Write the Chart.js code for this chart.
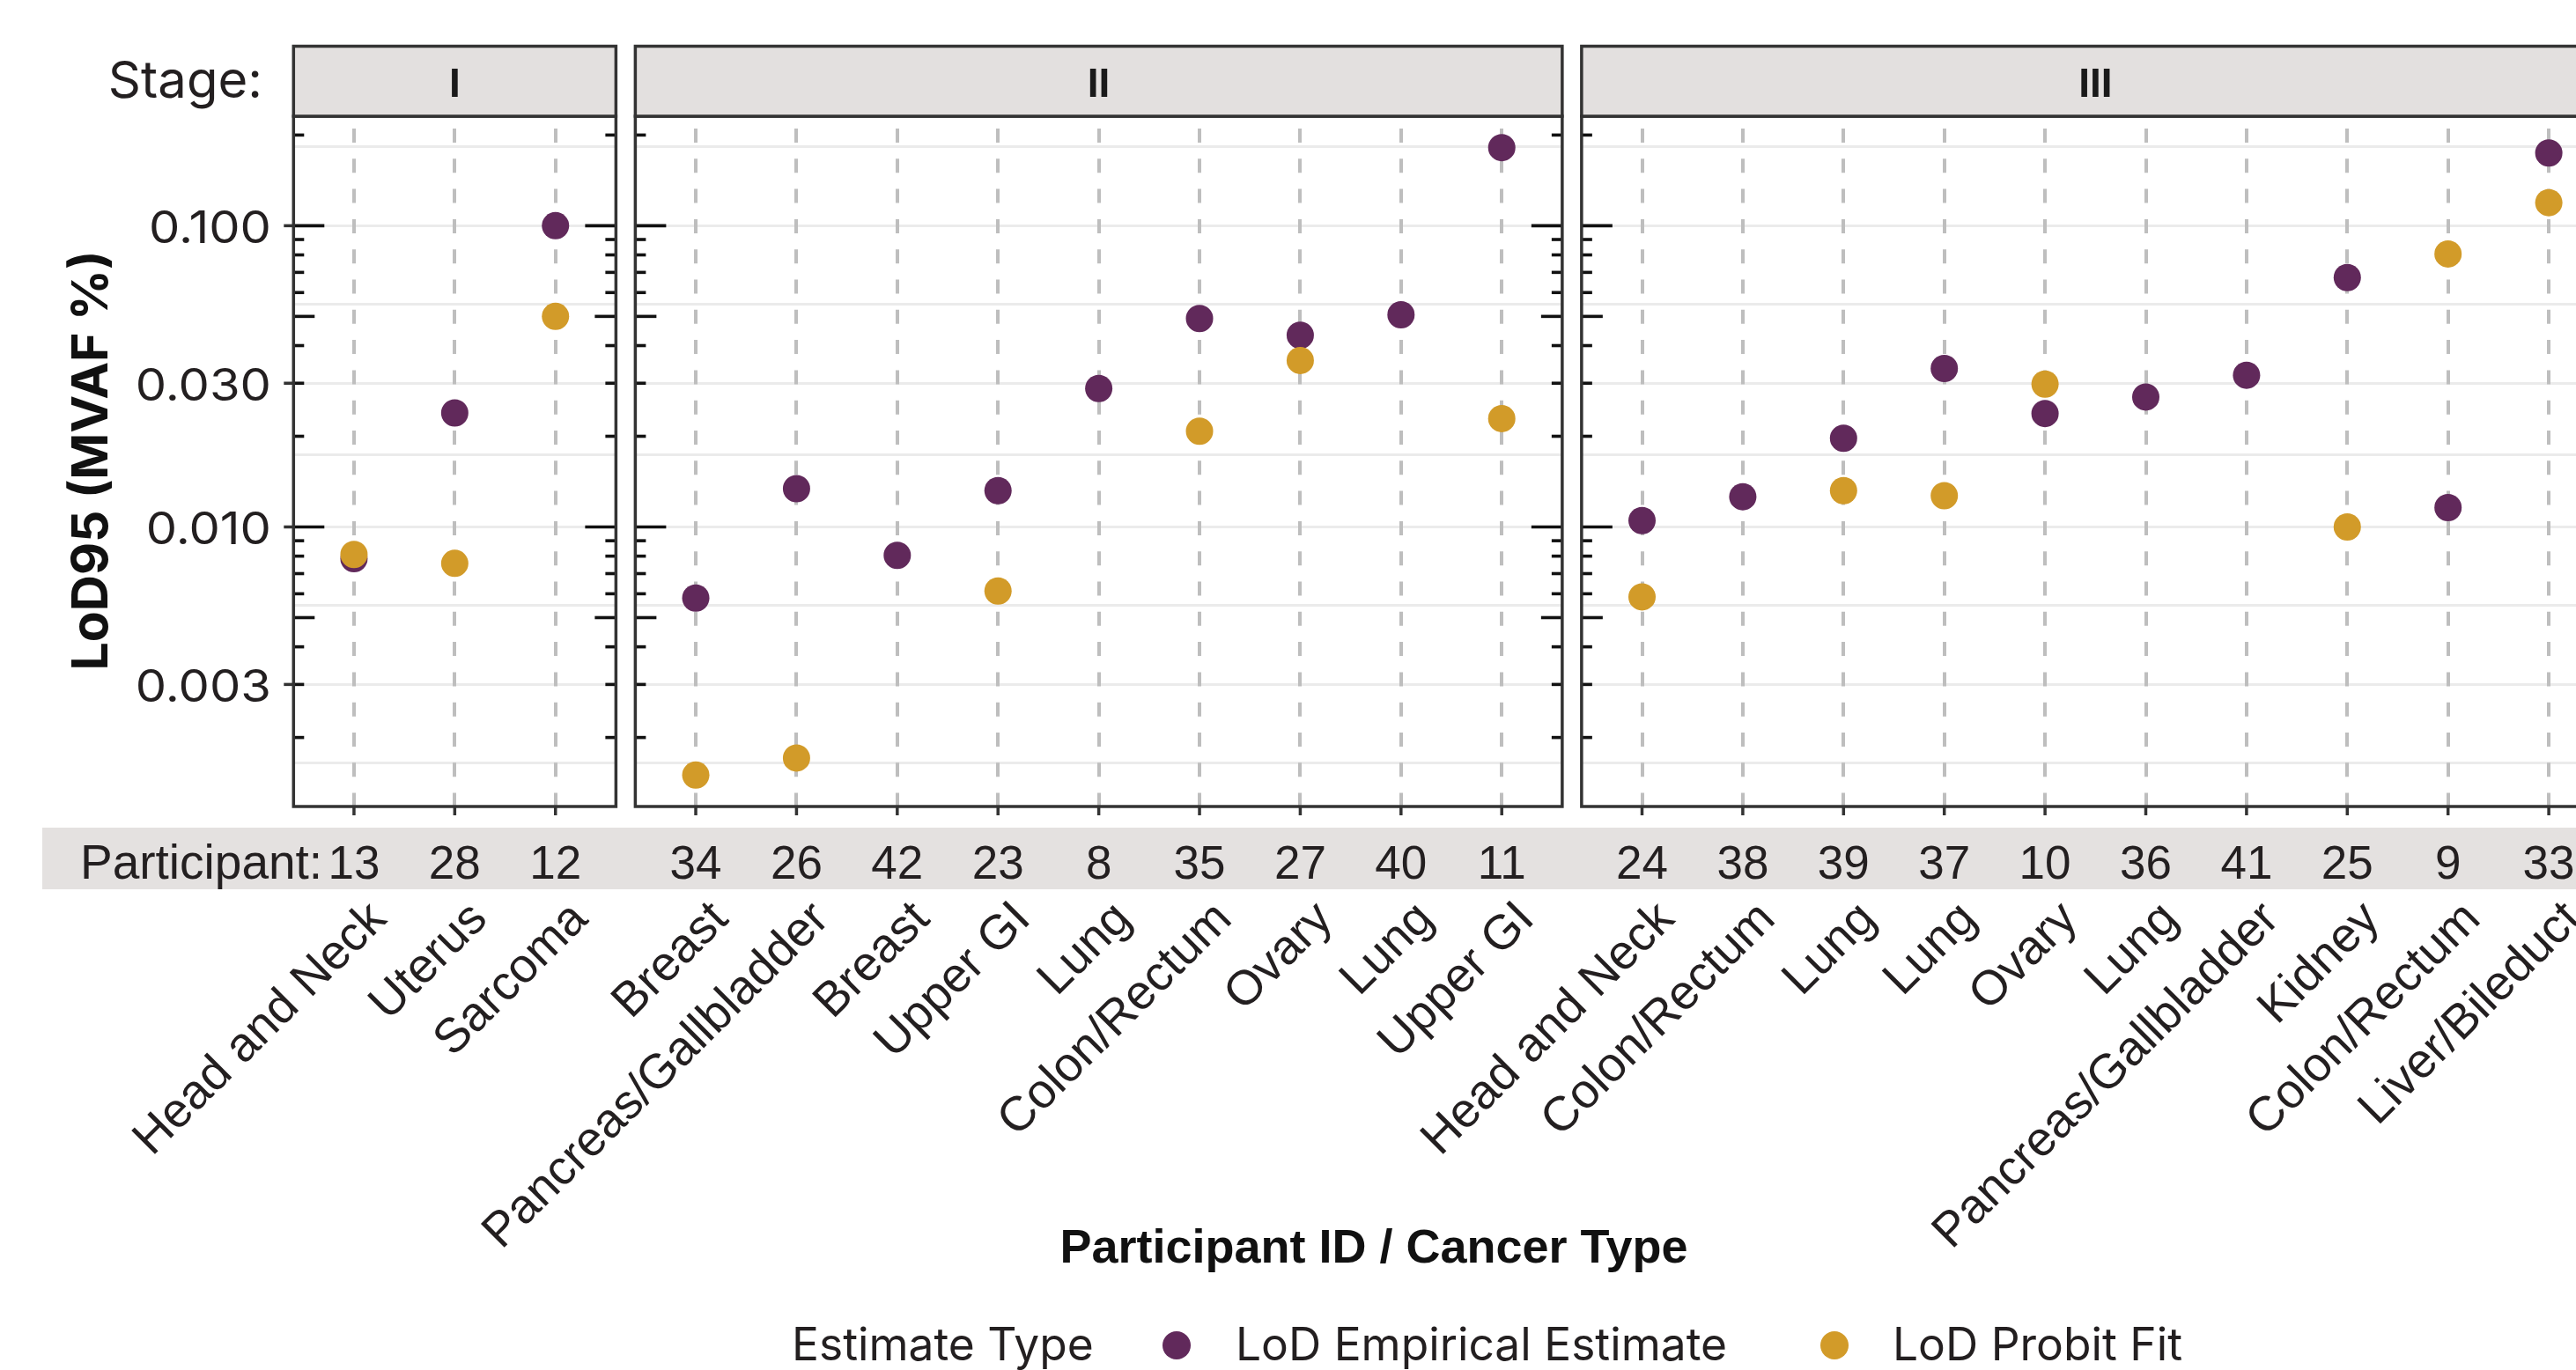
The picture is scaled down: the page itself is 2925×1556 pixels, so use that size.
<!DOCTYPE html>
<html><head><meta charset="utf-8">
<script src="https://cdn.jsdelivr.net/npm/chart.js@4.4.1/dist/chart.umd.min.js"></script>
<style>
html,body{margin:0;padding:0;background:#fff;overflow:hidden;}
#wrap{position:relative;width:2925px;height:1556px;overflow:hidden;background:#fff;}
#wrap canvas{position:absolute;left:0;top:0;}
</style></head><body><div id="wrap">
<canvas id="c1" width="3000" height="1556"></canvas>
<canvas id="c2" width="3000" height="1556"></canvas>
<canvas id="c3" width="3000" height="1556"></canvas>
</div>
<script>
// ---------------- data ----------------
const stages = ['I', 'II', 'III'];

const participantsI = ['13', '28', '12'];
const cancerI = ['Head and Neck', 'Uterus', 'Sarcoma'];
const empiricalI = [0.00785, 0.0239, 0.1000];
const probitI = [0.0081, 0.00757, 0.0500];

const participantsII = ['34', '26', '42', '23', '8', '35', '27', '40', '11'];
const cancerII = ['Breast', 'Pancreas/Gallbladder', 'Breast', 'Upper GI', 'Lung', 'Colon/Rectum', 'Ovary', 'Lung', 'Upper GI'];
const empiricalII = [0.00581, 0.0134, 0.00805, 0.0132, 0.0288, 0.0492, 0.0433, 0.0506, 0.1817];
const probitII = [0.00150, 0.00171, null, 0.00613, null, 0.0208, 0.0357, null, 0.0229];

const participantsIII = ['24', '38', '39', '37', '10', '36', '41', '25', '9', '33'];
const cancerIII = ['Head and Neck', 'Colon/Rectum', 'Lung', 'Lung', 'Ovary', 'Lung', 'Pancreas/Gallbladder', 'Kidney', 'Colon/Rectum', 'Liver/Bileduct'];
const empiricalIII = [0.0105, 0.0126, 0.0197, 0.0336, 0.0238, 0.0270, 0.0319, 0.0673, 0.0116, 0.1743];
const probitIII = [0.00586, null, 0.0132, 0.0127, 0.0298, null, null, 0.0100, 0.0806, 0.1193];

const yBreaks = [0.003, 0.01, 0.03, 0.1];
const yBreakLabels = ['0.003', '0.010', '0.030', '0.100'];
const seriesNames = ['LoD Empirical Estimate', 'LoD Probit Fit'];
const legendTitle = 'Estimate Type';
const xTitle = 'Participant ID / Cancer Type';
const yTitle = 'LoD95 (MVAF %)';
const stageLabel = 'Stage:';
const participantLabel = 'Participant:';

// ---------------- style / layout ----------------
const COLORS = ['#61295B', '#D29B29'];
const TEXT = '#231F20';
const BORDER = '#333333';
const STRIP_FILL = '#E3E0DF';
const CW = 3000, CH = 1556;
const UNIT = 114.4, GAP = 22, FIRST_LEFT = 333.3;
const PANEL_TOP = 132, PANEL_BOTTOM = 916, STRIP_TOP = 52.5;
const BAND_TOP = 940, BAND_BOTTOM = 1010, BAND_LEFT = 48;
const R = 15.5;

// y limits: log10 data range expanded 5% (as ggplot)
const allVals = [].concat(empiricalI, probitI, empiricalII, probitII, empiricalIII, probitIII).filter(v => v != null);
const lmin = Math.log10(Math.min(...allVals)), lmax = Math.log10(Math.max(...allVals));
const ex = (lmax - lmin) * 0.05;
const Y_MIN = Math.pow(10, lmin - ex), Y_MAX = Math.pow(10, lmax + ex);

// major + minor grid (ggplot regular minor breaks in log space)
const lb = yBreaks.map(Math.log10);
const bd = lb[1] - lb[0];
const lbx = [lb[0] - bd].concat(lb, [lb[lb.length - 1] + bd]);
const minorVals = [];
for (let i = 0; i < lbx.length - 1; i++) minorVals.push(Math.pow(10, (lbx[i] + lbx[i + 1]) / 2));
const gridVals = yBreaks.concat(minorVals).filter(v => v >= Y_MIN && v <= Y_MAX);

// annotation log ticks
const logTickVals = [];
for (let e = -3; e <= -1; e++) for (let d = 1; d <= 9; d++) logTickVals.push({ v: d * Math.pow(10, e), d: d });
const logTicks = logTickVals.filter(t => t.v >= Y_MIN && t.v <= Y_MAX);

const panels = [
  { stage: stages[0], ids: participantsI, cancers: cancerI, emp: empiricalI, pro: probitI },
  { stage: stages[1], ids: participantsII, cancers: cancerII, emp: empiricalII, pro: probitII },
  { stage: stages[2], ids: participantsIII, cancers: cancerIII, emp: empiricalIII, pro: probitIII }
];
let cur = FIRST_LEFT;
panels.forEach(p => { p.left = cur; p.right = cur + (p.ids.length - 1 + 1.2) * UNIT; cur = p.right + GAP; });

function toPoints(arr) {
  const out = [];
  arr.forEach((v, i) => { if (v != null) out.push({ x: i, y: v }); });
  return out;
}
function line(ctx, x1, y1, x2, y2) { ctx.beginPath(); ctx.moveTo(x1, y1); ctx.lineTo(x2, y2); ctx.stroke(); }

function panelPlugin(p, k) {
  return {
    id: 'panelDeco' + k,
    beforeDraw(chart) {
      if (k !== 0) return;
      const ctx = chart.ctx;
      ctx.save();
      ctx.fillStyle = '#E4E1E0';
      ctx.fillRect(BAND_LEFT, BAND_TOP, CW - BAND_LEFT, BAND_BOTTOM - BAND_TOP);
      ctx.restore();
    },
    afterDraw(chart) {
      const ctx = chart.ctx, a = chart.chartArea, xs = chart.scales.x, ys = chart.scales.y;
      ctx.save();
      // log ticks (inside both sides)
      ctx.strokeStyle = '#111111'; ctx.lineWidth = 3.6; ctx.lineCap = 'butt';
      logTicks.forEach(t => {
        const py = ys.getPixelForValue(t.v);
        const len = t.d === 1 ? 35 : (t.d === 5 ? 24 : 12);
        line(ctx, a.left, py, a.left + len, py);
        line(ctx, a.right, py, a.right - len, py);
      });
      // panel border
      ctx.strokeStyle = BORDER; ctx.lineWidth = 3.5;
      ctx.strokeRect(a.left, a.top, a.right - a.left, a.bottom - a.top);
      // strip
      ctx.fillStyle = STRIP_FILL;
      ctx.fillRect(a.left, STRIP_TOP, a.right - a.left, a.top - STRIP_TOP);
      ctx.strokeRect(a.left, STRIP_TOP, a.right - a.left, a.top - STRIP_TOP);
      ctx.fillStyle = '#1A1A1A'; ctx.font = 'bold 46px "Liberation Sans"';
      ctx.textAlign = 'center'; ctx.textBaseline = 'alphabetic';
      ctx.fillText(p.stage, (a.left + a.right) / 2, 110);
      // x ticks, ids, cancer types
      p.ids.forEach((id, i) => {
        const px = xs.getPixelForValue(i);
        ctx.strokeStyle = BORDER; ctx.lineWidth = 3.5;
        line(ctx, px, a.bottom, px, a.bottom + 10);
        ctx.fillStyle = TEXT; ctx.font = '53px "Liberation Sans"';
        ctx.textAlign = 'center';
        ctx.fillText(id, px, 998);
        ctx.save();
        ctx.font = '55px "Liberation Sans"';
        ctx.translate(px + 39, 1046);
        ctx.rotate(-Math.PI / 4);
        ctx.textAlign = 'right';
        ctx.fillText(p.cancers[i], 0, 0);
        ctx.restore();
      });
      if (k === 0) {
        // y axis labels and outward ticks
        ctx.font = '51px Inter'; ctx.fillStyle = TEXT; ctx.textAlign = 'right';
        ctx.strokeStyle = BORDER; ctx.lineWidth = 3.5;
        yBreaks.forEach((v, i) => {
          const py = ys.getPixelForValue(v);
          line(ctx, a.left - 11, py, a.left, py);
          ctx.save();
          ctx.translate(308, py + 20); ctx.scale(1.1, 1);
          ctx.fillText(yBreakLabels[i], 0, 0);
          ctx.restore();
        });
        // Stage:
        ctx.font = '58px Inter'; ctx.textAlign = 'right';
        ctx.fillText(stageLabel, 298, 111);
        // Participant:
        ctx.font = '55px "Liberation Sans"'; ctx.textAlign = 'left';
        ctx.fillText(participantLabel, 91, 998);
        // y title
        ctx.save();
        ctx.translate(121.5, 523); ctx.rotate(-Math.PI / 2);
        ctx.font = 'bold 57px Inter'; ctx.textAlign = 'center'; ctx.fillStyle = '#111111';
        ctx.fillText(yTitle, 0, 0);
        ctx.restore();
        // x title
        ctx.font = 'bold 54px "Liberation Sans"'; ctx.textAlign = 'center'; ctx.fillStyle = '#111111';
        ctx.fillText(xTitle, 1560, 1433.5);
        // legend
        ctx.fillStyle = TEXT; ctx.font = '51.5px Inter'; ctx.textAlign = 'left';
        ctx.fillText(legendTitle, 899, 1545);
        const dotX = [1336, 2083], txtX = [1403, 2149];
        chart.data.datasets.forEach((ds, j) => {
          ctx.fillStyle = ds.pointBackgroundColor;
          ctx.beginPath(); ctx.arc(dotX[j], 1528, 16, 0, Math.PI * 2); ctx.fill();
          ctx.fillStyle = TEXT;
          ctx.fillText(seriesNames[j], txtX[j], 1545);
        });
      }
      ctx.restore();
    }
  };
}

panels.forEach((p, k) => {
  const canvas = document.getElementById('c' + (k + 1));
  new Chart(canvas, {
    type: 'scatter',
    data: {
      datasets: [
        { label: seriesNames[0], data: toPoints(p.emp), pointBackgroundColor: COLORS[0], pointBorderWidth: 0, pointRadius: R, pointHoverRadius: R, order: 2 },
        { label: seriesNames[1], data: toPoints(p.pro), pointBackgroundColor: COLORS[1], pointBorderWidth: 0, pointRadius: R, pointHoverRadius: R, order: 1 }
      ]
    },
    options: {
      responsive: false, animation: false, events: [],
      layout: { autoPadding: false, padding: { left: p.left, right: CW - p.right, top: PANEL_TOP, bottom: CH - PANEL_BOTTOM } },
      plugins: { legend: { display: false }, tooltip: { enabled: false } },
      scales: {
        x: {
          type: 'linear', bounds: 'data', min: -0.6, max: p.ids.length - 0.4,
          afterBuildTicks: s => { s.ticks = p.ids.map((_, i) => ({ value: i })); },
          afterFit: s => { s.height = 0; },
          ticks: { display: false },
          grid: { color: '#BEBEBE', lineWidth: 4, drawTicks: false, z: -1 },
          border: { display: false, dash: [16, 18.3], dashOffset: 20.3 }
        },
        y: {
          type: 'logarithmic', bounds: 'data', min: Y_MIN, max: Y_MAX,
          afterBuildTicks: s => { s.ticks = gridVals.map(v => ({ value: v })); },
          afterFit: s => { s.width = 0; },
          ticks: { display: false },
          grid: { color: '#EBEBEB', lineWidth: 3, drawTicks: false, z: -2 },
          border: { display: false }
        }
      }
    },
    plugins: [panelPlugin(p, k)]
  });
});
</script>
</body></html>
